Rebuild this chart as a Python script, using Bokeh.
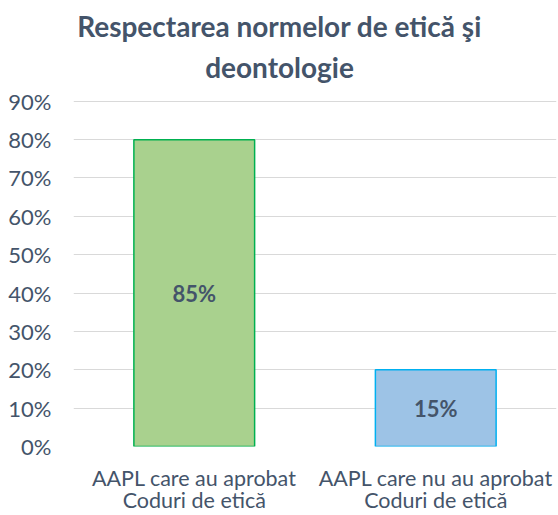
from bokeh.plotting import figure
from bokeh.models import FactorRange, Range1d, Label, FixedTicker, ColumnDataSource
from bokeh.embed import file_html
from bokeh.resources import INLINE
from bokeh.core.properties import value

categories = ["AAPL care au aprobat\nCoduri de etică", "AAPL care nu au aprobat\nCoduri de etică"]
bar_values = [80, 20]
bar_labels = ["85%", "15%"]
fill_colors = ["#A9D18E", "#9DC3E6"]
line_colors = ["#00B050", "#00B0F0"]
y_ticks = [0, 10, 20, 30, 40, 50, 60, 70, 80, 90]
title_lines = ["Respectarea normelor de etică şi", "deontologie"]

FONT = "Lato"
TXT = "#44546A"

# layout (pixels): frame bottom at 447, 90% grid line at 101,
# title lines placed near y = 26 and 68, centred on the chart width (x = 279)
FRAME_BOTTOM = 447
PX_PER_UNIT = (447 - 101) / 90
Y_TOP = FRAME_BOTTOM / PX_PER_UNIT
title_y = [(FRAME_BOTTOM - b) / PX_PER_UNIT for b in (26, 67)]
title_x = (279 - 73) / ((556 - 73) / len(categories))

src = ColumnDataSource(dict(cat=categories, val=bar_values, mid=[v / 2 for v in bar_values],
                            lab=bar_labels, fill=fill_colors, line=line_colors))

p = figure(width=558, height=515, x_range=FactorRange(factors=categories, range_padding=0),
           y_range=Range1d(0, Y_TOP), output_backend="svg", toolbar_location=None,
           min_border_left=73, min_border_right=2, min_border_top=0, min_border_bottom=68)
p.outline_line_color = None
p.xgrid.grid_line_color = None
p.ygrid.grid_line_color = "#D9D9D9"
p.ygrid.grid_line_width = 1

p.vbar(x="cat", top="val", width=0.5, source=src, fill_color="fill", line_color="line", line_width=1.5)
p.text(x="cat", y="mid", text="lab", source=src, text_align="center", text_baseline="middle",
       text_font=value(FONT), text_font_size="22px", text_font_style="bold", text_color=TXT)

for txt, yy in zip(title_lines, title_y):
    p.add_layout(Label(x=title_x, y=yy, text=txt, text_align="center", text_baseline="alphabetic",
                       text_font=FONT, text_font_size="28px", text_font_style="bold",
                       text_color=TXT))

p.yaxis.ticker = FixedTicker(ticks=y_ticks)
p.yaxis.major_label_overrides = {t: f"{t}%" for t in y_ticks}
p.yaxis.axis_line_color = None
p.yaxis.major_tick_line_color = None
p.yaxis.major_tick_out = 0
p.yaxis.major_tick_in = 0
p.yaxis.minor_tick_line_color = None
p.yaxis.minor_tick_out = 0
p.yaxis.major_label_standoff = 22
p.yaxis.major_label_text_font = FONT
p.yaxis.major_label_text_font_size = "22px"
p.yaxis.major_label_text_color = TXT

p.xaxis.axis_line_color = None
p.xaxis.major_tick_line_color = None
p.xaxis.major_tick_out = 0
p.xaxis.major_tick_in = 0
p.xaxis.major_label_standoff = 18
p.xaxis.major_label_text_font = FONT
p.xaxis.major_label_text_font_size = "21.5px"
p.xaxis.major_label_text_line_height = 0.85
p.xaxis.major_label_text_color = TXT

open("out.html", "w").write(file_html(p, INLINE))
